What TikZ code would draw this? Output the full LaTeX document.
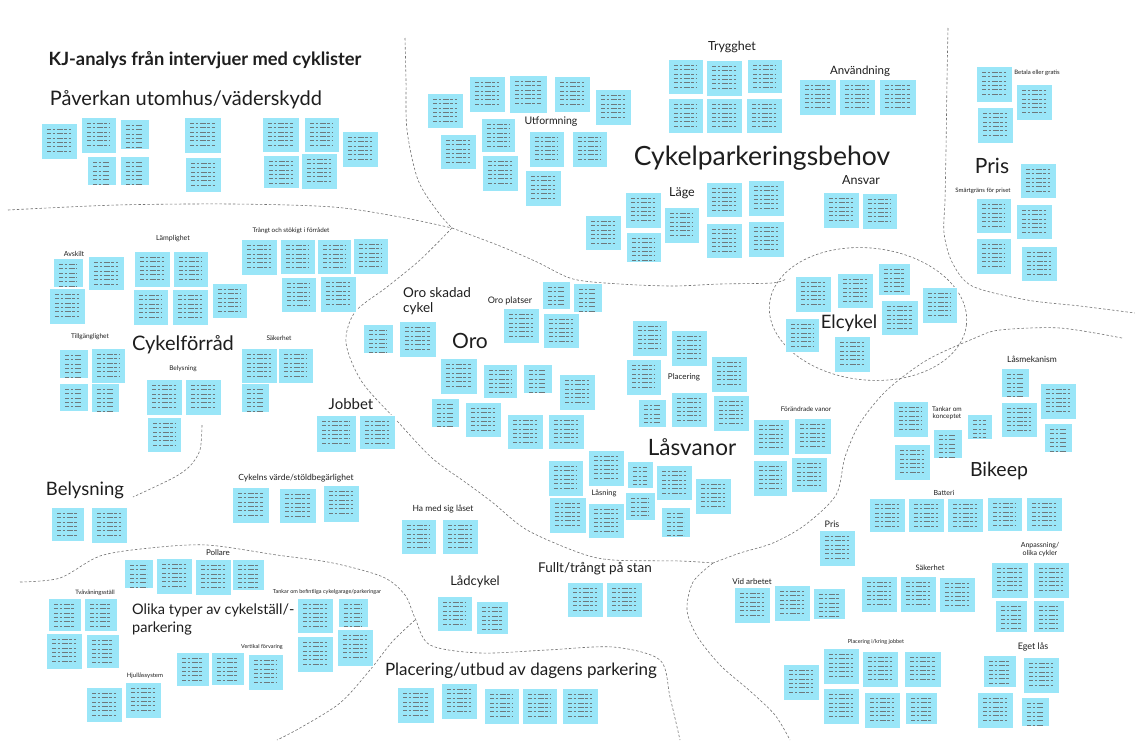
\documentclass[tikz,border=0pt]{standalone}
\usepackage{fontspec}
\setmainfont{Lato}
\definecolor{notec}{HTML}{9AE6F8}
\definecolor{textc}{HTML}{1E1E1E}
\definecolor{notetxt}{HTML}{3C4C52}
\newcommand\nt[5]{\node[note,minimum width={(#4-#2)*1pt},minimum height={(#5-#3)*1pt}] (n#1) at ({(#2+#4)/2},{(#3+#5)/2}) {};}
\tikzset{
  txt/.style={draw=notetxt!75, line width=0.35pt, dash pattern=on 4pt off 1.5pt on 2.5pt off 1.5pt on 6pt off 1.5pt on 3pt off 1.5pt},
  note/.style={fill=notec, draw=white, line width=0.4pt, inner sep=0pt, outer sep=0pt,
    path picture={\foreach \k in {1,...,6}{\draw[txt] ([xshift=6pt,yshift={-2pt-\k*4.3pt}]path picture bounding box.north west) -- ([xshift=-6pt,yshift={-2pt-\k*4.3pt}]path picture bounding box.north east);}}},
  lbl/.style={font=\fontsize{#1}{#1}\selectfont, inner sep=0pt, text=textc},
  bnd/.style={draw=black!55, line width=0.6pt, dash pattern=on 2.5pt off 2pt}
}
\begin{document}
\begin{tikzpicture}[x=1pt,y=-1pt]
\useasboundingbox (0,0) rectangle (1135,740);
\fill[white] (0,0) rectangle (1135,740);
% boundaries
\draw[bnd] plot[smooth] coordinates {(405,38) (406,80) (407,130) (418,180) (438,212) (452,228)};
\draw[bnd] plot[smooth] coordinates {(8,210) (117,205) (233,204) (333,207) (400,217) (452,228)};
\draw[bnd] plot[smooth] coordinates {(452,228) (500,246) (537,262) (573,279) (620,284) (673,286) (720,284) (772,283) (786,279)};
\draw[bnd, rotate around={-6:(868,314)}] (868,314) ellipse [x radius=99, y radius=66];
\draw[bnd] plot[smooth] coordinates {(948,28) (947,80) (946,150) (945,200) (944,233) (952,262) (972,286) (1027,300) (1080,306) (1135,313)};
\draw[bnd] plot[smooth] coordinates {(1122,338) (1060,328) (1000,330) (975,338) (927,360) (887,390) (860,423) (845,457) (836,495) (805,525) (773,543) (740,553) (713,563)};
\draw[bnd] plot[smooth] coordinates {(452,228) (420,260) (387,287) (355,312) (346,343) (362,382) (398,422) (432,458) (465,482) (492,502) (527,530) (580,553) (613,560) (680,561) (713,563)};
\draw[bnd] plot[smooth] coordinates {(713,563) (693,582) (687,610) (697,636) (720,665) (750,691) (775,715) (790,740)};
\draw[bnd] plot[smooth] coordinates {(20,582) (60,578) (100,556) (150,548) (207,545) (277,555) (333,563) (383,577) (405,595) (415,618) (430,645) (480,653) (547,650) (613,647) (660,660) (670,697) (680,740)};
\draw[bnd] plot[smooth] coordinates {(415,620) (392,642) (370,670) (340,703) (300,728) (277,740)};
\draw[bnd] plot[smooth] coordinates {(202,425) (200,450) (190,466) (173,478) (133,497)};
% labels
\node[lbl=18,font=\fontsize{18.3}{18.3}\selectfont\bfseries] (title) at (205,60) {KJ-analys från intervjuer med cyklister};
\node[lbl=20] (l1) at (186,100) {Påverkan utomhus/väderskydd};
\node[lbl=26.5] (l2) at (762,158) {Cykelparkeringsbehov};
\node[lbl=12.5] (l3) at (732,47) {Trygghet};
\node[lbl=11.5] (l4) at (860,71) {Användning};
\node[lbl=10.5] (l5) at (551,122) {Utformning};
\node[lbl=12.5] (l6) at (682,193) {Läge};
\node[lbl=12.5] (l7) at (861,180) {Ansvar};
\node[lbl=21] (l8) at (992,166) {Pris};
\node[lbl=6] (l9) at (1037,73) {Betala eller gratis};
\node[lbl=6] (l10) at (983,191) {Smärtgräns för priset};
\node[lbl=20] (l11) at (183,345) {Cykelförråd};
\node[lbl=7] (l12) at (74,254) {Avskilt};
\node[lbl=7] (l13) at (173,239) {Lämplighet};
\node[lbl=6.3] (l14) at (291,231) {Trångt och stökigt i förrådet};
\node[lbl=6.5] (l15) at (90,337) {Tillgänglighet};
\node[lbl=6.5] (l16) at (183,369) {Belysning};
\node[lbl=6.5] (l17) at (279,338) {Säkerhet};
\node[lbl=15] (l18) at (351,404) {Jobbet};
\node[lbl=13.5,align=left,anchor=north west] (l19) at (403,287) {Oro skadad\\[2pt]cykel};
\node[lbl=9] (l20) at (510,301) {Oro platser};
\node[lbl=21] (l21) at (470,341) {Oro};
\node[lbl=8] (l22) at (684,377) {Placering};
\node[lbl=22.5] (l23) at (692,447) {Låsvanor};
\node[lbl=7.5] (l24) at (604,493) {Låsning};
\node[lbl=6.5] (l25) at (806,409) {Förändrade vanor};
\node[lbl=18.5] (l26) at (849,323) {Elcykel};
\node[lbl=8.5] (l27) at (1032,359) {Låsmekanism};
\node[lbl=6.5,align=center] (l28) at (947,413) {Tankar om\\[1pt]konceptet};
\node[lbl=19.5] (l29) at (999,471) {Bikeep};
\node[lbl=7] (l30) at (944,493) {Batteri};
\node[lbl=9] (l31) at (832,524) {Pris};
\node[lbl=7.5] (l32) at (930,568) {Säkerhet};
\node[lbl=7,align=center] (l33) at (1040,550) {Anpassning/\\[1pt]olika cykler};
\node[lbl=8] (l34) at (752,582) {Vid arbetet};
\node[lbl=5.5] (l35) at (876,642) {Placering i/kring jobbet};
\node[lbl=9] (l36) at (1033,647) {Eget lås};
\node[lbl=8.5] (l37) at (443,509) {Ha med sig låset};
\node[lbl=13.5] (l38) at (595,569) {Fullt/trångt på stan};
\node[lbl=13] (l39) at (475,582) {Lådcykel};
\node[lbl=17] (l40) at (521,671) {Placering/utbud av dagens parkering};
\node[lbl=18.5] (l41) at (85,490) {Belysning};
\node[lbl=8.5] (l42) at (296,478) {Cykelns värde/stöldbegärlighet};
\node[lbl=8] (l43) at (218,553) {Pollare};
\node[lbl=6] (l44) at (95,593) {Tvåvåningsställ};
\node[lbl=14.5,align=left,anchor=north west] (l45) at (132,604) {Olika typer av cykelställ/-\\[3pt]parkering};
\node[lbl=5.5] (l46) at (327,592) {Tankar om befintliga cykelgarage/parkeringar};
\node[lbl=5.5] (l47) at (262,647) {Vertikal förvaring};
\node[lbl=6] (l48) at (145,676) {Hjullåssystem};
% notes
\nt{1}{41}{123}{77}{159}
\nt{2}{81}{117}{116}{153}
\nt{3}{120}{119}{149}{149}
\nt{4}{87}{156}{116}{185}
\nt{5}{120}{156}{149}{185}
\nt{6}{184}{117}{221}{153}
\nt{7}{185}{157}{221}{192}
\nt{8}{262}{117}{299}{152}
\nt{9}{304}{117}{339}{152}
\nt{10}{263}{155}{299}{188}
\nt{11}{301}{153}{337}{189}
\nt{12}{342}{131}{378}{167}
\nt{13}{427}{93}{463}{128}
\nt{14}{469}{76}{505}{112}
\nt{15}{509}{75}{547}{113}
\nt{16}{554}{76}{590}{112}
\nt{17}{595}{89}{631}{125}
\nt{18}{440}{134}{476}{169}
\nt{19}{481}{118}{515}{152}
\nt{20}{482}{155}{518}{191}
\nt{21}{529}{131}{564}{167}
\nt{22}{572}{131}{607}{167}
\nt{23}{525}{170}{561}{206}
\nt{24}{668}{59}{703}{94}
\nt{25}{706}{60}{742}{96}
\nt{26}{747}{59}{782}{93}
\nt{27}{668}{98}{703}{133}
\nt{28}{706}{98}{742}{133}
\nt{29}{746}{98}{782}{133}
\nt{30}{799}{79}{836}{115}
\nt{31}{839}{79}{875}{115}
\nt{32}{879}{79}{916}{115}
\nt{33}{585}{215}{621}{250}
\nt{34}{625}{192}{661}{228}
\nt{35}{626}{232}{661}{262}
\nt{36}{664}{207}{699}{243}
\nt{37}{706}{182}{742}{217}
\nt{38}{706}{223}{742}{258}
\nt{39}{748}{180}{784}{216}
\nt{40}{748}{221}{784}{257}
\nt{41}{823}{192}{859}{228}
\nt{42}{862}{193}{897}{229}
\nt{43}{976}{66}{1012}{102}
\nt{44}{1016}{84}{1052}{120}
\nt{45}{977}{107}{1013}{143}
\nt{46}{1020}{163}{1056}{198}
\nt{47}{976}{198}{1011}{233}
\nt{48}{1016}{204}{1052}{239}
\nt{49}{976}{238}{1011}{274}
\nt{50}{1021}{246}{1057}{281}
\nt{51}{795}{276}{831}{312}
\nt{52}{837}{273}{873}{308}
\nt{53}{878}{263}{910}{295}
\nt{54}{881}{300}{918}{335}
\nt{55}{922}{287}{957}{323}
\nt{56}{785}{318}{819}{352}
\nt{57}{834}{336}{870}{372}
\nt{58}{53}{258}{83}{287}
\nt{59}{49}{288}{85}{324}
\nt{60}{88}{256}{124}{290}
\nt{61}{134}{251}{170}{287}
\nt{62}{173}{251}{208}{287}
\nt{63}{133}{289}{168}{325}
\nt{64}{172}{289}{208}{325}
\nt{65}{212}{283}{247}{318}
\nt{66}{241}{239}{277}{275}
\nt{67}{280}{239}{315}{274}
\nt{68}{317}{239}{351}{274}
\nt{69}{353}{238}{388}{274}
\nt{70}{281}{277}{316}{312}
\nt{71}{320}{276}{356}{312}
\nt{72}{59}{349}{88}{378}
\nt{73}{91}{348}{125}{383}
\nt{74}{59}{383}{88}{411}
\nt{75}{91}{383}{119}{412}
\nt{76}{146}{379}{182}{415}
\nt{77}{185}{379}{221}{415}
\nt{78}{147}{417}{181}{452}
\nt{79}{241}{348}{277}{383}
\nt{80}{278}{348}{313}{383}
\nt{81}{241}{383}{269}{412}
\nt{82}{316}{415}{356}{452}
\nt{83}{359}{415}{395}{449}
\nt{84}{363}{324}{393}{353}
\nt{85}{399}{321}{436}{357}
\nt{86}{503}{308}{539}{343}
\nt{87}{542}{281}{570}{309}
\nt{88}{573}{283}{602}{312}
\nt{89}{543}{313}{579}{348}
\nt{90}{440}{358}{477}{394}
\nt{91}{483}{364}{517}{398}
\nt{92}{523}{364}{552}{393}
\nt{93}{559}{374}{595}{410}
\nt{94}{431}{398}{459}{427}
\nt{95}{465}{402}{501}{437}
\nt{96}{507}{414}{543}{449}
\nt{97}{548}{414}{584}{449}
\nt{98}{632}{320}{667}{356}
\nt{99}{671}{330}{707}{366}
\nt{100}{626}{359}{661}{395}
\nt{101}{711}{356}{747}{392}
\nt{102}{638}{399}{666}{427}
\nt{103}{671}{392}{707}{427}
\nt{104}{713}{395}{749}{431}
\nt{105}{753}{419}{789}{455}
\nt{106}{794}{418}{831}{454}
\nt{107}{753}{460}{787}{496}
\nt{108}{791}{457}{827}{492}
\nt{109}{548}{460}{583}{496}
\nt{110}{588}{450}{624}{486}
\nt{111}{627}{461}{653}{488}
\nt{112}{656}{465}{692}{500}
\nt{113}{695}{478}{731}{514}
\nt{114}{549}{497}{586}{533}
\nt{115}{588}{503}{624}{538}
\nt{116}{625}{492}{655}{520}
\nt{117}{661}{507}{690}{537}
\nt{118}{1001}{368}{1029}{397}
\nt{119}{1040}{383}{1076}{419}
\nt{120}{1001}{402}{1037}{437}
\nt{121}{1044}{423}{1072}{452}
\nt{122}{893}{401}{928}{437}
\nt{123}{933}{429}{962}{458}
\nt{124}{967}{414}{992}{439}
\nt{125}{894}{444}{930}{480}
\nt{126}{869}{498}{905}{532}
\nt{127}{908}{498}{944}{532}
\nt{128}{947}{498}{983}{532}
\nt{129}{987}{497}{1022}{531}
\nt{130}{1026}{497}{1062}{531}
\nt{131}{819}{530}{855}{566}
\nt{132}{861}{576}{897}{612}
\nt{133}{900}{576}{936}{612}
\nt{134}{939}{577}{975}{612}
\nt{135}{991}{562}{1028}{598}
\nt{136}{1033}{562}{1069}{598}
\nt{137}{995}{600}{1027}{632}
\nt{138}{1033}{600}{1064}{632}
\nt{139}{734}{587}{770}{623}
\nt{140}{774}{585}{810}{621}
\nt{141}{813}{588}{845}{619}
\nt{142}{783}{664}{819}{700}
\nt{143}{823}{648}{859}{684}
\nt{144}{862}{651}{898}{687}
\nt{145}{904}{651}{941}{687}
\nt{146}{823}{688}{859}{724}
\nt{147}{864}{692}{900}{728}
\nt{148}{905}{692}{937}{724}
\nt{149}{983}{655}{1016}{687}
\nt{150}{1023}{657}{1059}{693}
\nt{151}{977}{692}{1013}{728}
\nt{152}{1021}{697}{1049}{726}
\nt{153}{401}{519}{436}{554}
\nt{154}{442}{519}{478}{554}
\nt{155}{437}{596}{472}{631}
\nt{156}{476}{601}{508}{634}
\nt{157}{567}{582}{603}{617}
\nt{158}{606}{582}{642}{617}
\nt{159}{397}{687}{434}{723}
\nt{160}{441}{683}{477}{719}
\nt{161}{484}{688}{519}{724}
\nt{162}{522}{688}{557}{724}
\nt{163}{562}{688}{598}{724}
\nt{164}{51}{507}{84}{541}
\nt{165}{91}{507}{127}{543}
\nt{166}{232}{487}{269}{523}
\nt{167}{279}{488}{316}{523}
\nt{168}{323}{485}{359}{522}
\nt{169}{124}{559}{153}{588}
\nt{170}{156}{558}{192}{594}
\nt{171}{195}{559}{231}{595}
\nt{172}{232}{559}{264}{590}
\nt{173}{48}{598}{81}{631}
\nt{174}{84}{598}{117}{631}
\nt{175}{46}{633}{82}{669}
\nt{176}{86}{634}{119}{668}
\nt{177}{297}{598}{333}{633}
\nt{178}{338}{598}{368}{627}
\nt{179}{297}{636}{333}{672}
\nt{180}{337}{629}{373}{666}
\nt{181}{176}{652}{209}{686}
\nt{182}{211}{652}{244}{685}
\nt{183}{248}{654}{283}{690}
\nt{184}{86}{687}{122}{722}
\nt{185}{125}{682}{161}{718}
\end{tikzpicture}
\end{document}
